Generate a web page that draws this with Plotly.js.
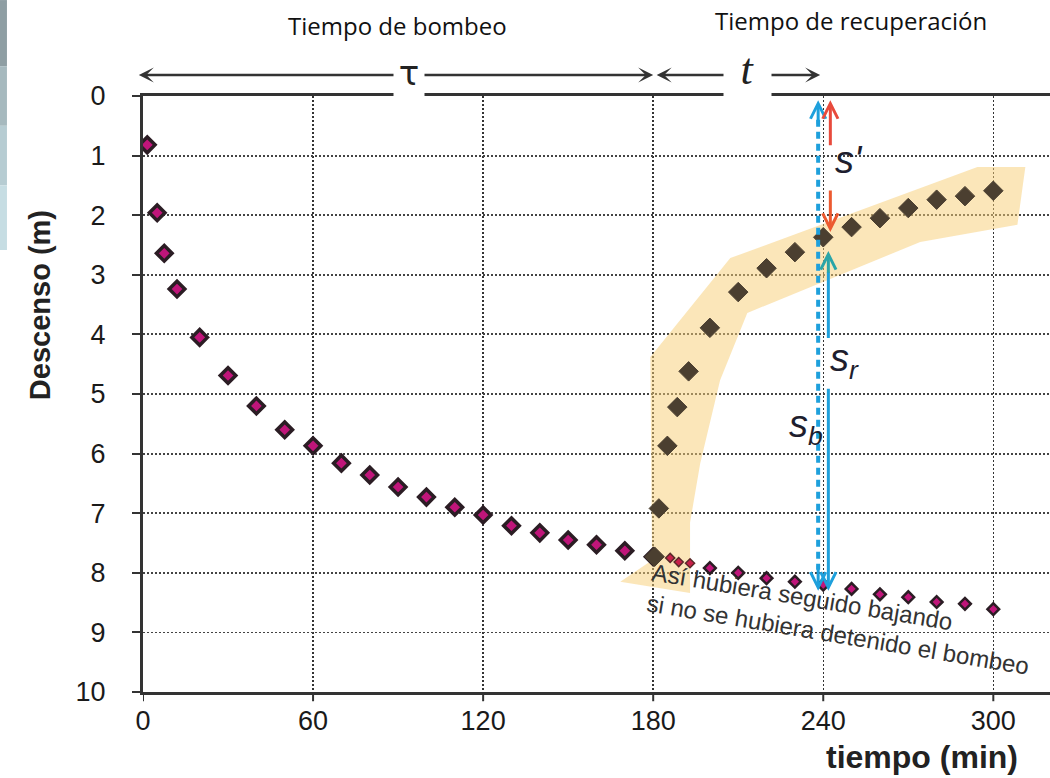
<!DOCTYPE html>
<html>
<head>
<meta charset="utf-8">
<script src="https://cdn.plot.ly/plotly-3.0.1.min.js"></script>
<style>html,body{margin:0;padding:0;background:#fff;}#chart{width:1050px;height:778px;}</style>
</head>
<body>
<div id="chart"></div>
<script>
// Pumping phase (descenso durante el bombeo)
const pumpT = [1.5, 5, 7.5, 12, 20, 30, 40, 50, 60, 70, 80, 90, 100, 110, 120, 130, 140, 150, 160, 170, 180];
const pumpS = [0.82, 1.96, 2.64, 3.24, 4.05, 4.69, 5.2, 5.6, 5.87, 6.16, 6.36, 6.56, 6.73, 6.9, 7.03, 7.21, 7.33, 7.45, 7.53, 7.63, 7.73];
// Hypothetical continuation if pumping had not stopped
const contEarlyT = [186, 189, 193];
const contEarlyS = [7.75, 7.82, 7.84];
const contT = [200, 210, 220, 230, 240, 250, 260, 270, 280, 290, 300];
const contS = [7.92, 8.0, 8.09, 8.15, 8.2, 8.27, 8.36, 8.41, 8.49, 8.52, 8.61];
// Recovery phase
const recT = [180.5, 182, 185, 188.5, 192.5, 200, 210, 220, 230, 240, 250, 260, 270, 280, 290, 300];
const recS = [7.73, 6.92, 5.87, 5.22, 4.62, 3.89, 3.29, 2.89, 2.62, 2.37, 2.2, 2.05, 1.88, 1.74, 1.68, 1.59];
// Highlight band around recovery data
const bandT = [168.4, 179.6, 179, 207.2, 294.4, 311.3, 308.5, 274.2, 213.2, 203.6, 196.6, 193, 193, 168.4];
const bandS = [8.15, 7.79, 4.38, 2.72, 1.19, 1.19, 2.16, 2.45, 3.64, 4.77, 6.16, 7.16, 8.34, 8.15];
// Axis ticks
const xTicks = [0, 60, 120, 180, 240, 300];
const yTicks = [0, 1, 2, 3, 4, 5, 6, 7, 8, 9, 10];

const sans = '"Liberation Sans", Arial, sans-serif';
const tickFont = {family: sans, size: 27, color: '#1a1a1a'};

const traces = [
  {x: bandT, y: bandS, type: 'scatter', mode: 'lines', fill: 'toself',
   fillcolor: 'rgba(247,205,115,0.5)', line: {width: 0}, hoverinfo: 'skip', showlegend: false},
  {x: pumpT, y: pumpS, type: 'scatter', mode: 'markers', showlegend: false,
   marker: {symbol: 'diamond', size: 12, color: '#c0157a', line: {color: '#2b1d24', width: 3.5}}},
  {x: contEarlyT, y: contEarlyS, type: 'scatter', mode: 'markers', showlegend: false,
   marker: {symbol: 'diamond', size: 7, color: '#c8204a', line: {color: '#5a2a2a', width: 1.5}}},
  {x: contT, y: contS, type: 'scatter', mode: 'markers', showlegend: false,
   marker: {symbol: 'diamond', size: 9, color: '#c0157a', line: {color: '#2b1d24', width: 2.5}}},
  {x: recT, y: recS, type: 'scatter', mode: 'markers', showlegend: false,
   marker: {symbol: 'diamond', size: 15, color: '#4b3f30', line: {color: '#4b3f30', width: 1}}}
];

const blue = '#1ea0dc';
const ann = [];
function arrow(x, y, ax, ay, color, width, head) {
  return {x: x, y: y, xref: 'x', yref: 'y', axref: 'x', ayref: 'y', ax: ax, ay: ay,
    showarrow: true, arrowcolor: color, arrowwidth: width, arrowhead: head, arrowsize: 1,
    font: {size: 1}, standoff: 0, startstandoff: 0};
}
function label(x, y, xref, yref, text, font, extra) {
  return Object.assign({x: x, y: y, xref: xref, yref: yref, text: text, showarrow: false,
    xanchor: 'center', yanchor: 'middle', font: font}, extra || {});
}
// top double arrows (tau and t)
ann.push({x: 180, y: 1.0352, xref: 'x', yref: 'paper', axref: 'x', ax: -2, ayref: 'pixel', ay: 0,
  showarrow: true, arrowside: 'end+start', arrowhead: 3, startarrowhead: 3, arrowsize: 1, startarrowsize: 1,
  arrowwidth: 2.5, arrowcolor: '#333', font: {size: 1}, standoff: 0, startstandoff: 0});
ann.push({x: 238.9, y: 1.0352, xref: 'x', yref: 'paper', axref: 'x', ax: 180.7, ayref: 'pixel', ay: 0,
  showarrow: true, arrowside: 'end+start', arrowhead: 3, startarrowhead: 3, arrowsize: 1, startarrowsize: 1,
  arrowwidth: 2.5, arrowcolor: '#333', font: {size: 1}, standoff: 0, startstandoff: 0});
// labels on top arrows
ann.push(label(94, 1.0336, 'x', 'paper', 'τ', {family: '"DejaVu Sans", sans-serif', size: 34, color: '#222'},
  {bgcolor: '#fff', width: 28, height: 46, valign: 'top'}));
ann.push(label(213.3, 1.0403, 'x', 'paper', '<i>t</i>', {family: '"Liberation Serif", serif', size: 44, color: '#222'},
  {bgcolor: '#fff', width: 45, height: 54, valign: 'top'}));
// blue dashed (s_b) arrowheads
ann.push(arrow(238.2, 0.07, 238.2, 0.5, blue, 3, 5));
ann.push(arrow(238.2, 8.3, 238.2, 7.85, blue, 3, 5));
// solid blue s_r
ann.push(arrow(241.8, 2.6, 241.8, 3.0, '#2aa5a8', 3, 5));
ann.push(arrow(241.8, 8.3, 241.8, 4.88, blue, 3, 5));
// red s'
ann.push(arrow(242.5, 0.07, 242.5, 0.86, '#e84a3c', 3, 5));
ann.push(arrow(242.5, 2.28, 242.5, 1.55, '#ec5a30', 3, 5));
// symbol labels
const symFont = {family: sans, size: 38, color: '#1e1e2e'};
ann.push(label(249, 1.07, 'x', 'y', "<i>s'</i>", symFont));
ann.push(label(247.5, 4.45, 'x', 'y', '<i>s<sub>r</sub></i>', symFont));
ann.push(label(234, 5.55, 'x', 'y', '<i>s<sub>b</sub></i>', symFont));
// tilted note
ann.push(label(246, 8.78, 'x', 'y', 'Así hubiera seguido bajando<br>si no se hubiera detenido el bombeo',
  {family: sans, size: 24, color: '#333'}, {textangle: 9.5, align: 'left'}));
// top headings
ann.push(label(0.281, 1.119, 'paper', 'paper', 'Tiempo de bombeo', {family: '"Open Sans", sans-serif', size: 24, color: '#111'}));
ann.push(label(0.781, 1.1275, 'paper', 'paper', 'Tiempo de recuperación', {family: '"Open Sans", sans-serif', size: 24, color: '#111'}));
// axis titles
ann.push(label(0.859, -0.109, 'paper', 'paper', '<b>tiempo (min)</b>', {family: sans, size: 32, color: '#222'}));
ann.push(label(-0.1136, 0.649, 'paper', 'paper', '<b>Descenso (m)</b>', {family: sans, size: 29, color: '#222'},
  {textangle: -90}));

const shapes = [
  {type: 'line', xref: 'x', yref: 'y', x0: 238.2, x1: 238.2, y0: 0.4, y1: 7.95,
   line: {color: blue, width: 4, dash: '7px,5px'}},
  {type: 'line', xref: 'x', yref: 'y', x0: 241.8, x1: 241.8, y0: 2.95, y1: 4.06,
   line: {color: blue, width: 3}},
  {type: 'rect', xref: 'paper', yref: 'paper', x0: -0.1577, x1: -0.15, y0: 1.05, y1: 1.161,
   line: {width: 0}, fillcolor: '#8e9ea3'},
  {type: 'rect', xref: 'paper', yref: 'paper', x0: -0.1577, x1: -0.15, y0: 0.95, y1: 1.05,
   line: {width: 0}, fillcolor: '#a6b9be'},
  {type: 'rect', xref: 'paper', yref: 'paper', x0: -0.1577, x1: -0.15, y0: 0.85, y1: 0.95,
   line: {width: 0}, fillcolor: '#b6ccd2'},
  {type: 'rect', xref: 'paper', yref: 'paper', x0: -0.1577, x1: -0.15, y0: 0.7416, y1: 0.85,
   line: {width: 0}, fillcolor: '#c6dde3'}
];
// x-axis tick marks (drawn as shapes so labels sit closer to the axis)
xTicks.forEach(function (v) {
  shapes.push({type: 'line', xref: 'x', yref: 'paper', x0: v, x1: v, y0: -0.0025, y1: -0.0155,
    line: {color: '#333', width: 2}});
});

const layout = {
  width: 1050, height: 778,
  margin: {l: 143, r: 0, t: 96, b: 86},
  paper_bgcolor: '#fff', plot_bgcolor: '#fff',
  showlegend: false,
  xaxis: {range: [0, 320], tickvals: xTicks, ticktext: xTicks.map(String), ticks: '',
    showline: true, linewidth: 3, linecolor: '#333', mirror: true,
    showgrid: true, gridcolor: '#333', gridwidth: 1.5, griddash: '2px,2px', zeroline: false,
    tickfont: tickFont, ticklabelstandoff: 3},
  yaxis: {range: [10, 0], tickvals: yTicks, ticktext: yTicks.map(String), ticks: 'outside', ticklen: 8,
    tickwidth: 2, tickcolor: '#333', showline: true, linewidth: 3, linecolor: '#333',
    showgrid: true, gridcolor: '#444', gridwidth: 1.8, griddash: '2px,2px', zeroline: false,
    tickfont: tickFont, ticklabelstandoff: 21},
  annotations: ann,
  shapes: shapes
};

Plotly.newPlot('chart', traces, layout, {displayModeBar: false, staticPlot: true});
</script>
</body>
</html>
